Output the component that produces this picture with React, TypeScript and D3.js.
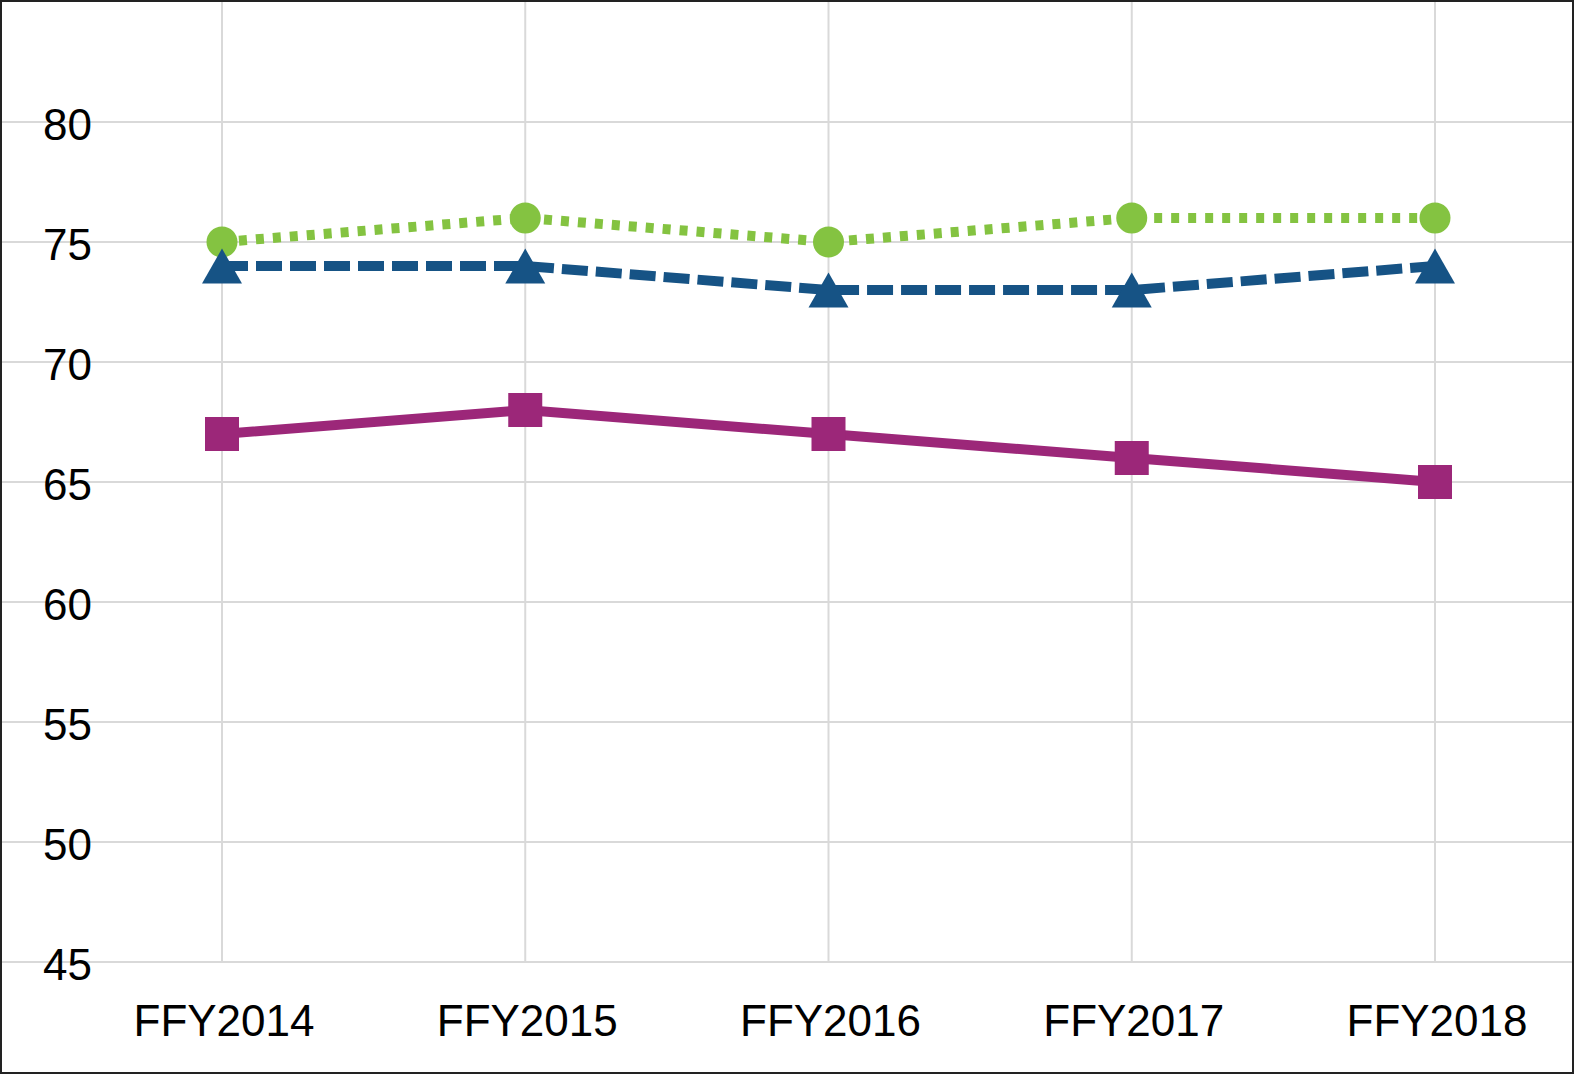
import React from "react";
import * as d3 from "d3";

const categories = ["FFY2014", "FFY2015", "FFY2016", "FFY2017", "FFY2018"];
const greenValues = [75, 76, 75, 76, 76];
const blueValues = [74, 74, 73, 73, 74];
const purpleValues = [67, 68, 67, 66, 65];
const yTicks = [45, 50, 55, 60, 65, 70, 75, 80];

const W = 1575;
const H = 1076;

export default function App() {
  const x = d3.scalePoint<string>().domain(categories).range([222, 1435]).padding(0);
  const y = d3.scaleLinear().domain([45, 85]).range([962, 2]);

  const line = d3
    .line<number>()
    .x((_, i) => x(categories[i]) as number)
    .y((d) => y(d));

  const tri = (cx: number, cy: number) => {
    const w = 40;
    const h = 35;
    return `M${cx},${cy - h / 2}L${cx + w / 2},${cy + h / 2}L${cx - w / 2},${cy + h / 2}Z`;
  };

  const font = "'Liberation Sans', Arial, sans-serif";

  return (
    <>
      <style>{"html,body{margin:0;padding:0;overflow:hidden;background:#fff}"}</style>
      <svg width={W} height={H} style={{ display: "block" }} fontFamily={font}>
        <rect x={0} y={0} width={W} height={H} fill="#fff" />
        {yTicks.map((t) => (
          <line key={"h" + t} x1={2} x2={1573} y1={y(t)} y2={y(t)} stroke="#d9d9d9" strokeWidth={2} />
        ))}
        {categories.map((c) => (
          <line key={"v" + c} x1={x(c)} x2={x(c)} y1={1} y2={y(45)} stroke="#d9d9d9" strokeWidth={2} />
        ))}
        {yTicks.map((t) => (
          <text key={"yl" + t} x={92} y={y(t)} dy="0.4em" textAnchor="end" fontSize={44} fill="#000">
            {t}
          </text>
        ))}
        {categories.map((c) => (
          <text key={"xl" + c} x={(x(c) as number) + 2} y={1036} textAnchor="middle" fontSize={44} fill="#000">
            {c}
          </text>
        ))}
        <path d={line(greenValues) || ""} fill="none" stroke="#84c341" strokeWidth={10} strokeDasharray="8,9" />
        {greenValues.map((v, i) => (
          <circle key={"g" + i} cx={x(categories[i])} cy={y(v)} r={15.5} fill="#84c341" />
        ))}
        <path d={line(blueValues) || ""} fill="none" stroke="#165385" strokeWidth={10} strokeDasharray="26,8" />
        {blueValues.map((v, i) => (
          <path key={"b" + i} d={tri(x(categories[i]) as number, y(v))} fill="#165385" />
        ))}
        <path d={line(purpleValues) || ""} fill="none" stroke="#9c2779" strokeWidth={10} />
        {purpleValues.map((v, i) => (
          <rect
            key={"p" + i}
            x={(x(categories[i]) as number) - 17}
            y={y(v) - 17}
            width={34}
            height={34}
            fill="#9c2779"
          />
        ))}
        <rect x={1} y={1} width={1572} height={1072} fill="none" stroke="#222" strokeWidth={2} />
      </svg>
    </>
  );
}
